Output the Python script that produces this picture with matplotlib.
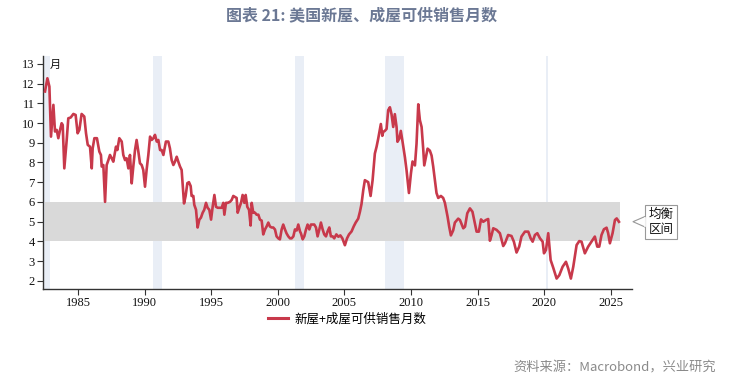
import matplotlib
matplotlib.use("Agg")
import matplotlib.pyplot as plt
from matplotlib.lines import Line2D
from matplotlib.patches import Rectangle

plt.rcParams['font.family'] = ['Noto Sans CJK SC', 'DejaVu Sans']

# ---- data (decimal years, months of supply) ----
years = [
    1982.52, 1982.70, 1982.85, 1982.97, 1983.15, 1983.27, 1983.40, 1983.52, 1983.65, 1983.77, 1983.85,
    1983.97, 1984.15, 1984.27, 1984.45, 1984.65, 1984.82, 1984.97, 1985.10, 1985.27, 1985.47, 1985.60,
    1985.73, 1985.90, 1986.03, 1986.10, 1986.23, 1986.42, 1986.60, 1986.72, 1986.78, 1986.90, 1987.03,
    1987.15, 1987.28, 1987.40, 1987.53, 1987.65, 1987.85, 1987.95, 1988.10, 1988.28, 1988.40, 1988.53,
    1988.65, 1988.78, 1988.90, 1989.03, 1989.15, 1989.28, 1989.40, 1989.53, 1989.65, 1989.78, 1989.90,
    1990.03, 1990.15, 1990.28, 1990.41, 1990.53, 1990.66, 1990.78, 1990.91, 1991.03, 1991.16, 1991.28,
    1991.41, 1991.60, 1991.78, 1991.90, 1992.03, 1992.16, 1992.28, 1992.41, 1992.53, 1992.66, 1992.78,
    1992.96, 1993.08, 1993.21, 1993.33, 1993.46, 1993.53, 1993.66, 1993.73, 1993.86, 1993.98, 1994.11,
    1994.23, 1994.36, 1994.48, 1994.61, 1994.73, 1994.86, 1994.99, 1995.11, 1995.24, 1995.36, 1995.49,
    1995.66, 1995.79, 1995.91, 1995.99, 1996.11, 1996.24, 1996.41, 1996.54, 1996.66, 1996.79, 1996.91,
    1996.99, 1997.11, 1997.24, 1997.36, 1997.49, 1997.59, 1997.71, 1997.84, 1997.96, 1998.04, 1998.16,
    1998.29, 1998.41, 1998.54, 1998.66, 1998.79, 1998.91, 1999.04, 1999.16, 1999.29, 1999.41, 1999.54,
    1999.66, 1999.79, 1999.91, 2000.04, 2000.16, 2000.29, 2000.41, 2000.54, 2000.66, 2000.79, 2000.92,
    2001.04, 2001.17, 2001.29, 2001.42, 2001.54, 2001.67, 2001.74, 2001.87, 2001.99, 2002.12, 2002.24,
    2002.37, 2002.49, 2002.62, 2002.74, 2002.87, 2002.99, 2003.12, 2003.24, 2003.37, 2003.49, 2003.62,
    2003.74, 2003.87, 2003.99, 2004.12, 2004.24, 2004.40, 2004.55, 2004.70, 2004.85, 2005.04, 2005.20,
    2005.35, 2005.54, 2005.70, 2005.85, 2006.04, 2006.17, 2006.29, 2006.42, 2006.54, 2006.67, 2006.79,
    2006.97, 2007.12, 2007.29, 2007.42, 2007.54, 2007.65, 2007.74, 2007.85, 2007.92, 2008.04, 2008.17,
    2008.29, 2008.42, 2008.54, 2008.67, 2008.79, 2008.92, 2008.99, 2009.12, 2009.24, 2009.37, 2009.55,
    2009.67, 2009.85, 2010.00, 2010.12, 2010.30, 2010.42, 2010.55, 2010.67, 2010.80, 2010.92, 2011.00,
    2011.12, 2011.25, 2011.42, 2011.55, 2011.67, 2011.80, 2011.92, 2012.05, 2012.25, 2012.42, 2012.55,
    2012.75, 2012.87, 2013.00, 2013.17, 2013.30, 2013.55, 2013.68, 2013.93, 2014.06, 2014.23, 2014.43,
    2014.62, 2014.80, 2014.93, 2015.10, 2015.26, 2015.43, 2015.63, 2015.80, 2015.93, 2016.06, 2016.18,
    2016.43, 2016.68, 2016.93, 2017.06, 2017.30, 2017.55, 2017.73, 2017.93, 2018.13, 2018.30, 2018.56,
    2018.81, 2018.99, 2019.14, 2019.31, 2019.49, 2019.69, 2019.89, 2019.99, 2020.14, 2020.31, 2020.49,
    2020.68, 2020.94, 2021.14, 2021.39, 2021.64, 2021.81, 2022.01, 2022.19, 2022.44, 2022.64, 2022.81,
    2023.06, 2023.31, 2023.56, 2023.81, 2023.99, 2024.14, 2024.31, 2024.49, 2024.69, 2024.81, 2024.94,
    2025.14, 2025.32, 2025.45, 2025.62,
]
supply = [
    11.60, 12.27, 11.85, 9.31, 10.92, 9.57, 9.65, 9.23, 9.65, 9.99, 9.90,
    7.70, 9.14, 10.24, 10.28, 10.46, 10.41, 9.48, 9.65, 10.46, 10.33, 9.48,
    8.89, 8.80, 7.70, 8.72, 9.23, 9.23, 8.55, 8.38, 7.79, 7.87, 6.00,
    7.87, 8.12, 8.38, 8.21, 8.04, 8.80, 8.63, 9.23, 9.06, 8.38, 8.12,
    8.21, 7.70, 8.38, 6.94, 7.79, 8.63, 9.14, 8.55, 7.96, 7.87, 7.62,
    6.77, 7.62, 8.38, 9.31, 9.14, 9.23, 9.40, 9.06, 9.14, 8.63, 8.63,
    8.38, 9.06, 9.06, 8.72, 8.12, 7.87, 8.04, 8.29, 8.04, 7.79, 7.62,
    5.92, 6.30, 6.95, 7.00, 6.80, 6.30, 6.30, 5.85, 5.60, 4.70, 5.10,
    5.20, 5.45, 5.60, 5.95, 5.70, 5.60, 5.10, 5.75, 6.35, 5.75, 5.70,
    5.70, 5.70, 5.95, 5.35, 5.95, 5.95, 6.00, 6.10, 6.30, 6.25, 6.20,
    5.45, 5.70, 5.95, 6.35, 5.95, 6.35, 5.75, 5.60, 4.80, 5.95, 5.45,
    5.45, 5.35, 5.35, 5.10, 5.05, 4.35, 4.60, 4.75, 4.95, 4.75, 4.70,
    4.70, 4.60, 4.25, 4.15, 4.10, 4.60, 4.85, 4.60, 4.40, 4.25, 4.15,
    4.15, 4.25, 4.60, 4.55, 4.85, 4.50, 4.40, 4.10, 4.25, 4.60, 4.85,
    4.60, 4.85, 4.85, 4.85, 4.70, 4.25, 4.60, 4.95, 4.60, 4.35, 4.25,
    4.50, 4.70, 4.25, 4.25, 4.15, 4.35, 4.23, 4.30, 4.15, 3.80, 4.15,
    4.35, 4.50, 4.75, 4.95, 5.15, 5.50, 5.90, 6.60, 7.10, 7.05, 7.00,
    6.30, 7.10, 8.45, 8.80, 9.20, 9.60, 9.95, 9.35, 9.55, 9.60, 9.70,
    10.65, 10.80, 10.45, 9.80, 10.45, 9.80, 9.05, 9.20, 9.60, 9.05, 8.25,
    7.60, 6.45, 7.45, 8.05, 7.85, 8.95, 10.95, 10.15, 9.80, 8.70, 7.85,
    8.25, 8.70, 8.60, 8.35, 7.80, 7.10, 6.45, 6.20, 6.30, 6.20, 5.95,
    5.25, 4.75, 4.30, 4.55, 4.95, 5.15, 5.08, 4.66, 4.74, 5.42, 5.67,
    5.50, 4.91, 4.49, 4.49, 5.11, 4.99, 5.08, 5.13, 4.03, 4.32, 4.66,
    4.58, 4.41, 3.76, 3.90, 4.32, 4.27, 3.98, 3.43, 3.73, 4.24, 4.49,
    4.49, 4.15, 3.98, 4.32, 4.41, 4.15, 3.98, 3.39, 3.56, 4.41, 3.05,
    2.67, 2.11, 2.28, 2.71, 2.96, 2.62, 2.11, 2.71, 3.81, 4.01, 3.98,
    3.39, 3.73, 3.98, 4.24, 3.73, 3.73, 4.32, 4.61, 4.69, 4.41, 3.90,
    4.41, 5.08, 5.16, 4.99,
]
recessions = [(1981.5, 1982.92), (1990.63, 1991.28), (2001.29, 2001.94),
              (2008.04, 2009.47), (2020.13, 2020.29)]
band_low, band_high = 4.0, 6.0
band_start, band_end = 1982.52, 2025.70
series_label = "新屋+成屋可供销售月数"
title = "图表 21: 美国新屋、成屋可供销售月数"
source = "资料来源：Macrobond，兴业研究"
xticks = [1985, 1990, 1995, 2000, 2005, 2010, 2015, 2020, 2025]
yticks = list(range(2, 14))

W, H = 744, 381
fig = plt.figure(figsize=(W / 100, H / 100), dpi=100)
ax = fig.add_axes([43 / W, 1 - 289 / H, (632 - 43) / W, (289 - 56) / H])

for s, e in recessions:
    ax.axvspan(s, e, color='#e9eef6', lw=0, zorder=0)
ax.fill_between([band_start, band_end], band_low, band_high, color='#d9d9d9', lw=0, zorder=1)
ax.plot(years, supply, color='#c8394b', lw=1.9, zorder=3, solid_joinstyle='round')

ax.set_xlim(1982.37, 2026.6)
ax.set_ylim(1.58, 13.4)
ax.set_xticks(xticks)
ax.set_yticks(yticks)
for lab in ax.get_xticklabels() + ax.get_yticklabels():
    lab.set_family('Liberation Serif')
    lab.set_fontsize(9)
    lab.set_color('#111111')
ax.tick_params(axis='both', direction='out', length=4, width=0.8, color='#333333', pad=2)
for sp in ['top', 'right']:
    ax.spines[sp].set_visible(False)
for sp in ['left', 'bottom']:
    ax.spines[sp].set_color('#333333')
    ax.spines[sp].set_linewidth(1.0)

ax.text(0.012, 0.985, "月", transform=ax.transAxes, fontsize=8, va='top', ha='left',
        style='italic', color='#111111')

# legend
handle = Line2D([], [], color='#c8394b', lw=2.2)
fig.legend([handle], [series_label], loc='center', bbox_to_anchor=(347 / W, 1 - 319 / H),
           frameon=False, fontsize=9, handlelength=1.6, handletextpad=0.5,
           prop={'family': ['Noto Sans CJK SC', 'DejaVu Sans'], 'size': 9})

# callout
fig.add_artist(Rectangle((645 / W, 1 - 239 / H), 32 / W, 34 / H, transform=fig.transFigure,
                         facecolor='white', edgecolor='#999999', lw=0.8))
fig.add_artist(Line2D([645 / W, 633 / W, 645 / W], [1 - 216.5 / H, 1 - 221.7 / H, 1 - 227 / H],
                      transform=fig.transFigure, color='#999999', lw=0.8))
fig.add_artist(Line2D([645 / W, 645 / W], [1 - 217.5 / H, 1 - 226 / H],
                      transform=fig.transFigure, color='white', lw=1.2))
fig.text(661 / W, 1 - 222 / H, "均衡\n区间", ha='center', va='center', fontsize=9,
         linespacing=1.3, color='#111111')

fig.text(362 / W, 1 - 15 / H, title, ha='center', va='center', fontsize=11.5,
         fontweight='bold', color='#6b7894')
fig.text(716 / W, 1 - 368 / H, source, ha='right', va='center', fontsize=9.5, color='#8a8a8a')

fig.savefig('out.png', dpi=100)
